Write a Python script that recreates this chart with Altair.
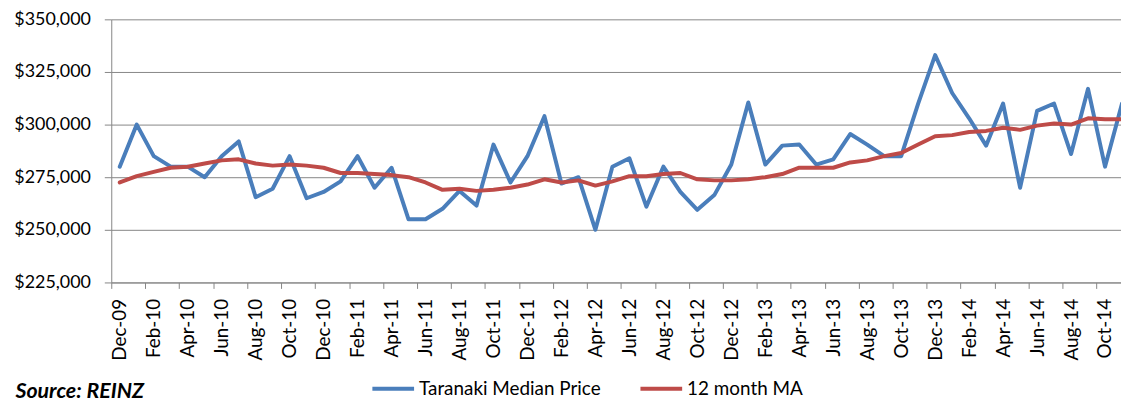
import json

import altair as alt
import pandas as pd

# month labels, Dec-09 .. Nov-14
months = [d.strftime("%b-%y") for d in pd.date_range("2009-12-01", periods=60, freq="MS")]

median_price = [280000, 300000, 285000, 280000, 280000, 275000, 285000, 292000, 265500, 269500,
                285000, 265000, 268000, 273000, 285000, 270000, 279500, 255000, 255000, 260000,
                268500, 261500, 290500, 272500, 285000, 304000, 272000, 275000, 250000, 280000,
                284000, 261000, 280000, 268000, 259500, 266500, 281000, 310500, 281000, 290000,
                290500, 281000, 283500, 295500, 290500, 285000, 285000, 310000, 333000, 315000,
                303000, 290000, 310000, 270000, 306500, 310000, 286000, 317000, 280000, 310000]

moving_avg = [272500, 275500, 277500, 279500, 280000, 281500, 283000, 283500, 281500, 280500,
              281000, 280500, 279500, 277000, 277000, 276500, 276000, 275000, 272500, 269000,
              269500, 268500, 269000, 270000, 271500, 274000, 272500, 273500, 271000, 273000,
              275500, 275500, 276500, 277000, 274000, 273500, 273500, 274000, 275000, 276500,
              279500, 279500, 279500, 282000, 283000, 285000, 286500, 290500, 294500, 295000,
              296500, 297000, 298500, 297500, 299500, 300500, 300000, 303000, 302500, 302500]

series_names = ["Taranaki Median Price", "12 month MA"]
series_colors = ["#4A7EBB", "#BE4B48"]
y_ticks = [225000, 250000, 275000, 300000, 325000, 350000]

n = len(months)
df = pd.DataFrame({
    "pos": [i + 0.5 for i in range(n)] * 2,
    "month": months * 2,
    "value": median_price + moving_avg,
    "series": [series_names[0]] * n + [series_names[1]] * n,
})

label_expr = json.dumps(months) + "[datum.value]"
grey = "#868686"

x_enc = alt.X(
    "pos:Q",
    scale=alt.Scale(domain=[0, 59.44], nice=False, zero=False),
    axis=alt.Axis(
        values=list(range(0, n, 2)), labelExpr=label_expr, labelAngle=270,
        labelOffset=8.55, labelFlush=False, labelOverlap=False,
        tickSize=6, labelPadding=10, grid=False,
        labelFontSize=19,
        domainColor=grey, tickColor=grey,
        title="Source: REINZ", titleX=-97, titleY=116, titleAngle=0,
        titleAlign="left", titleBaseline="alphabetic", titleFont="Lato",
        titleFontSize=21.5, titleFontWeight="bold", titleFontStyle="italic",
        titleColor="#000000",
    ),
)

y_enc = alt.Y(
    "value:Q",
    scale=alt.Scale(domain=[225000, 350000], nice=False, zero=False),
    axis=alt.Axis(
        values=y_ticks, format="$,.0f", title=None, tickSize=7, labelPadding=14,
        labelFontSize=18,
        gridColor=grey, gridWidth=1, domainColor=grey, tickColor=grey,
    ),
)

color_enc = alt.Color(
    "series:N",
    scale=alt.Scale(domain=series_names, range=series_colors),
    legend=alt.Legend(
        orient="none", legendX=261, legendY=349, direction="horizontal", title=None,
        symbolType="stroke", symbolSize=1764, symbolStrokeWidth=4,
        labelFont="Lato", labelFontSize=19, labelColor="#000000", labelLimit=0,
        labelOffset=3, columnPadding=32, padding=0,
    ),
)

base = alt.Chart(df).mark_line(strokeWidth=4, strokeJoin="round", strokeCap="round", clip=True).encode(
    x=x_enc, y=y_enc, color=color_enc
)

blue = base.transform_filter(alt.datum.series == series_names[0])
red = base.transform_filter(alt.datum.series == series_names[1])

chart = alt.layer(blue, red).properties(
    width=1017,
    height=265,
    autosize=alt.AutoSizeParams(type="none"),
    padding={"left": 104, "top": 10, "right": 0, "bottom": 121},
    background="white",
).configure_view(
    strokeWidth=0
).configure_axis(
    labelFont="Lato", labelColor="#000000"
)

chart.save("out.html", embed_options={"renderer": "svg", "actions": False})
